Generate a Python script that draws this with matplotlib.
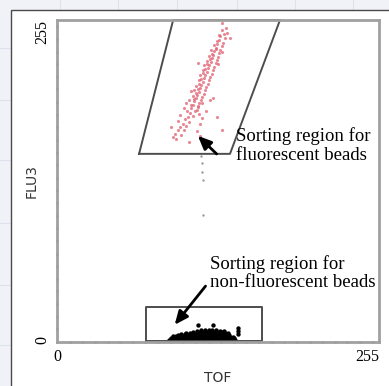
import matplotlib
matplotlib.use('Agg')
import matplotlib.pyplot as plt
from matplotlib.lines import Line2D
from matplotlib.patches import Rectangle
from matplotlib.ticker import MultipleLocator

# gate outlines (TOF, FLU3)
gate_hi_x = [65, 92, 176.6, 137, 65]
gate_hi_y = [149, 255, 255, 149, 149]
gate_lo_x = [70.2, 70.2, 162.5, 162.5, 70.2]
gate_lo_y = [1, 27.7, 27.7, 1, 1]

# fluorescent beads (red)
red_x = [130.5, 132.5, 129.3, 133, 128, 131.2, 126.8, 130.3, 126, 129.4, 124.5, 128.3,
         123.9, 127.6, 122.8, 126.4, 121.6, 125.6, 120.7, 124.4, 119.4, 123.3, 118.6, 122.4,
         117.4, 121.2, 116.2, 120.3, 115.4, 119.2, 114.3, 118.0, 113.1, 116.9, 112.2, 116.2,
         110.9, 115.0, 109.7, 113.8, 108.6, 112.5, 107.4, 111.4, 106.3, 110.5,
         125.8, 123, 121, 119, 117.5, 115.8, 114.3, 112.7, 111.3, 109.8, 108.1, 126.9, 128.0,
         124.4, 122.3, 120.6, 118.7, 116.8, 115.5, 113.6, 112.2, 110.4, 108.7, 107.4,
         105.3, 107.8, 103.5, 101.2, 104.6, 99.8, 102.4, 97.2, 100.5, 95.6, 93.2, 98.1, 91.8,
         94.6, 90.5, 96, 112.5, 115, 118.3, 106, 103.1, 113.5, 110.8, 121.4, 123.5, 126.7,
         130.6, 116.5, 118, 113, 104.5, 133.5, 134.6, 137, 131, 112, 130.5, 127.8, 105.8, 102.5,
         104.2, 100.8, 97.6, 109.3, 111.9, 114.8]
red_y = [247, 244, 242, 240.5, 239, 237, 236, 234.5, 233, 231, 230.5, 229,
         227.5, 226, 225, 223.5, 222, 221, 219.5, 218, 217, 215.5, 214, 212.5,
         211.5, 210, 209, 207.5, 206, 204.5, 203.5, 202, 201, 199.5, 198, 196.5,
         195.5, 194, 193, 191.5, 190.5, 189, 188, 186.5, 185, 183.5,
         232, 228, 224.5, 219.8, 216.5, 212.8, 208.4, 204.2, 200.3, 196.8, 192.6, 238.5, 243,
         235, 231.3, 226.8, 222.8, 219.2, 215.3, 211.4, 207.2, 202.8, 199.3, 194.8,
         181, 179, 178, 176.5, 174.5, 173, 171, 170.5, 168, 167.5, 165, 164, 162,
         160.5, 170, 175, 180.5, 177, 183, 187.5, 183.2, 172.5, 167, 191.5, 193, 178,
         168, 160, 156, 163, 158.5, 249, 244.7, 241, 252.6, 221, 229.5, 220, 198.5, 189,
         192, 185.5, 179.5, 183, 186, 189.5]

# non-fluorescent beads (black)
blk_x = [89, 91, 93, 95, 97, 99, 101, 103, 105, 107, 109, 111, 113, 115, 117, 119, 121, 123,
         125, 127, 129, 131, 133, 135, 137, 139, 141,
         90, 92.5, 95, 97.5, 100, 102.5, 105, 107.5, 110, 112.5, 115, 117.5, 120, 122.5, 125,
         127.5, 130, 132.5, 135, 137.5, 140,
         92, 94.5, 97, 99.5, 102, 104.5, 107, 109.5, 112, 114.5, 117, 119.5, 122, 124.5, 127,
         129.5, 132, 134.5, 137, 139,
         96, 98.5, 101, 103.5, 106, 108.5, 111, 113.5, 116, 118.5, 121, 123.5, 126, 128.5,
         131, 133.5, 136,
         102, 105, 108, 110.5, 113, 115.5, 118, 120.5, 123, 125.5, 128, 130.5, 133, 135.5,
         111, 114, 117, 120, 123, 126, 129, 132,
         111.6, 123.5, 143, 143, 143]
blk_y = [1.6, 1.8, 1.5, 1.7, 1.6, 1.9, 1.5, 1.7, 1.8, 1.6, 1.5, 1.7, 1.9, 1.6, 1.8, 1.5, 1.7,
         1.6, 1.8, 1.5, 1.7, 1.9, 1.6, 1.8, 1.5, 1.7, 1.6,
         3.1, 2.9, 3.2, 3.0, 3.3, 2.8, 3.1, 3.2, 2.9, 3.0, 3.3, 3.1, 2.9, 3.2, 3.0, 3.1, 2.8,
         3.2, 3.0, 3.1, 2.9,
         4.4, 4.6, 4.3, 4.7, 4.5, 4.4, 4.8, 4.6, 4.5, 4.7, 4.4, 4.6, 4.8, 4.5, 4.7, 4.4, 4.6,
         4.5, 4.3, 4.0,
         5.8, 6.0, 6.1, 5.9, 6.2, 6.0, 6.3, 6.1, 6.2, 6.4, 6.0, 6.3, 6.1, 6.2, 6.0, 5.9, 5.6,
         7.3, 7.5, 7.7, 7.6, 7.9, 7.7, 8.0, 7.8, 8.1, 7.9, 7.8, 7.6, 7.5, 7.0,
         8.9, 9.2, 9.5, 9.4, 9.6, 9.3, 9.1, 8.8,
         13.5, 13.5, 6, 8.5, 11]

# stray events
gry_x = [114.6, 114.6, 115.6, 114.2, 116]
gry_y = [141.5, 134.8, 100.5, 147, 128]

W, H = 389, 386
fig = plt.figure(figsize=(W / 100, H / 100), dpi=100)
fig.patch.set_facecolor('#f0f2f7')

# faint page grid behind the panel
for gx in [60, 118, 177, 237, 295, 353]:
    fig.add_artist(Line2D([gx / W, gx / W], [0, 1], color='#dde2ec', lw=0.8, zorder=-3))
for gy in [48, 100, 160, 223, 285, 345]:
    fig.add_artist(Line2D([0, 1], [1 - gy / H, 1 - gy / H], color='#dde2ec', lw=0.8, zorder=-3))

# white panel
fig.add_artist(Rectangle((11 / W, -0.1), 1.2, 1 - 10 / H + 0.1, transform=fig.transFigure,
                         facecolor='white', edgecolor='#4a4a4a', lw=1, zorder=-2))

ax = fig.add_axes([57 / W, 44 / H, 322 / W, 322 / H])
ax.set_facecolor('white')
ax.set_xlim(0, 255)
ax.set_ylim(0, 255)

ax.plot(gate_hi_x, gate_hi_y, color='#4d4d4d', lw=1.4, clip_on=False)
ax.plot(gate_lo_x, gate_lo_y, color='#4d4d4d', lw=1.4, clip_on=False)

ax.scatter(gry_x, gry_y, s=3, color='#9a9a9a', linewidths=0)
ax.scatter(red_x, red_y, s=5, color='#e36b7a', linewidths=0, alpha=0.8)
ax.scatter(blk_x, blk_y, s=10, marker='o', color='black', linewidths=0)

ax.annotate('', xy=(110, 164.8), xytext=(128, 147.4),
            arrowprops=dict(arrowstyle='-|>,head_length=0.8,head_width=0.35', color='black', lw=2))
ax.text(142, 155.5, 'Sorting region for\nfluorescent beads', family='Liberation Serif',
        fontsize=13.5, ha='left', va='center', linespacing=1.12)

ax.annotate('', xy=(91.8, 11.9), xytext=(119, 46),
            arrowprops=dict(arrowstyle='-|>,head_length=0.8,head_width=0.35', color='black', lw=2))
ax.text(121, 54.5, 'Sorting region for\nnon-fluorescent beads', family='Liberation Serif',
        fontsize=13.5, ha='left', va='center', linespacing=1.12)

for s in ax.spines.values():
    s.set_color('#a0a0a0')
    s.set_linewidth(2)

ax.set_xticks([0, 255])
ax.set_xticklabels(['0', '255'], family='Liberation Serif', fontsize=11.5)
ax.set_yticks([0, 255])
ax.set_yticklabels(['0', '255'], family='Liberation Serif', fontsize=11.5, rotation=90)
ax.get_xticklabels()[1].set_ha('right')
ax.get_yticklabels()[1].set_va('top')
ax.tick_params(which='major', length=0, pad=5)
ax.xaxis.set_minor_locator(MultipleLocator(10))
ax.yaxis.set_minor_locator(MultipleLocator(10))
ax.tick_params(which='minor', direction='inout', length=2, width=1.8, color='#555555')

ax.set_xlabel('TOF', fontsize=10, color='#333333', labelpad=4)
ax.set_ylabel('FLU3', fontsize=10, color='#333333', labelpad=-3)

fig.savefig('out.png', dpi=100, facecolor=fig.get_facecolor())
